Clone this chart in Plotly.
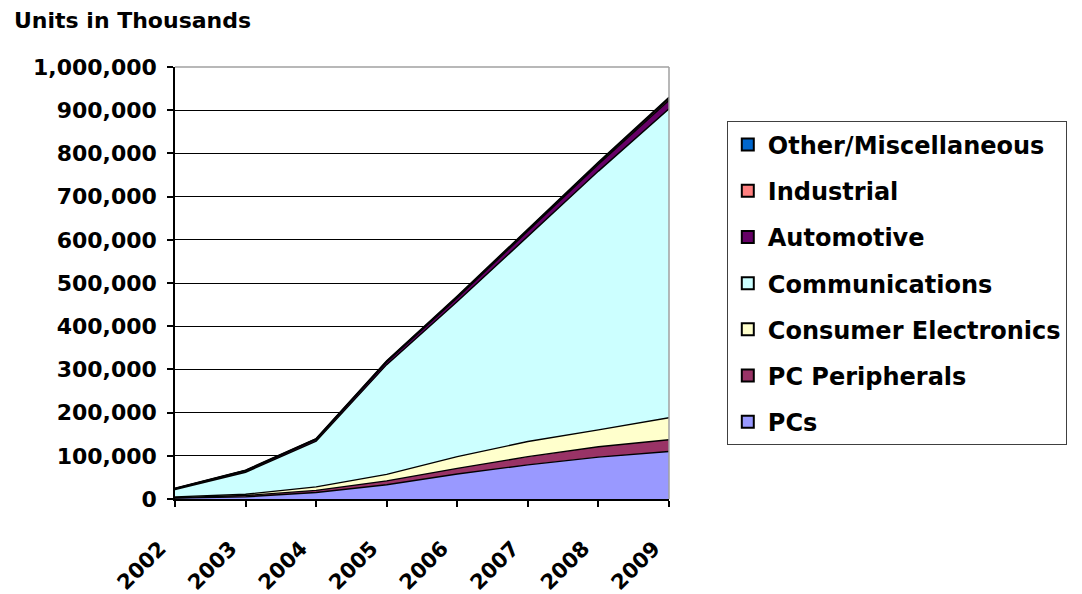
import plotly.graph_objects as go

# Annual unit shipments (thousands) by application segment
years = [2002, 2003, 2004, 2005, 2006, 2007, 2008, 2009]
pcs = [2000, 5000, 15000, 33000, 58000, 79000, 97000, 110000]
pc_peripherals = [1000, 3000, 5000, 9000, 13000, 19000, 24000, 27000]
consumer_electronics = [2000, 3000, 8000, 15000, 27000, 35000, 39000, 51000]
communications = [17000, 51000, 106000, 254000, 359000, 475000, 599000, 715000]
automotive = [2000, 3000, 4000, 6000, 9000, 12000, 16000, 20000]
industrial = [500, 1000, 1000, 2000, 2000, 3000, 3000, 4000]
other_misc = [500, 1000, 1000, 1000, 2000, 2000, 2000, 3000]

series_names = ["PCs", "PC Peripherals", "Consumer Electronics", "Communications",
                "Automotive", "Industrial", "Other/Miscellaneous"]
series_values = [pcs, pc_peripherals, consumer_electronics, communications,
                 automotive, industrial, other_misc]
series_colors = ["#9999FF", "#993366", "#FFFFCC", "#CCFFFF",
                 "#660066", "#FF8080", "#0066CC"]

y_ticks = list(range(0, 1000001, 100000))
y_tick_labels = [f"{v:,}" for v in y_ticks]

FONT = "DejaVu Sans"

fig = go.Figure()

# Stacked areas, bottom to top
for name, vals, col in zip(series_names, series_values, series_colors):
    fig.add_trace(go.Scatter(
        x=years, y=vals, name=name, stackgroup="one", mode="lines",
        fillcolor=col, line=dict(color="black", width=1.4),
        showlegend=False, hoverinfo="x+y+name",
    ))

# Legend entries with square swatches, top series listed first,
# each in its own group so the group gap spaces the rows
legend_items = list(zip(series_names, series_colors))[::-1]
for i, (name, col) in enumerate(legend_items):
    fig.add_trace(go.Scatter(
        x=[None], y=[None], name=name, mode="markers",
        marker=dict(symbol="square", size=13, color=col,
                    line=dict(color="black", width=1)),
        legendgroup=f"g{i}", showlegend=True,
    ))

fig.update_layout(
    width=1082, height=594,
    margin=dict(l=175, r=413, t=67, b=95),
    plot_bgcolor="white", paper_bgcolor="white",
    font=dict(family=FONT, size=22, color="black"),
    showlegend=True,
    legend=dict(
        x=1.117, xanchor="left", y=0.874, yanchor="top",
        traceorder="grouped", tracegroupgap=12,
        bordercolor="#404040", borderwidth=1, bgcolor="white",
        font=dict(family=FONT, size=24, color="black", weight="bold"),
        itemsizing="constant",
    ),
    xaxis=dict(
        range=[2002, 2009], tickmode="array", tickvals=years,
        ticktext=[str(y) for y in years], tickangle=-45,
        showgrid=False, zeroline=False, automargin=False,
        showline=True, linecolor="black", linewidth=1.5,
        ticks="outside", ticklen=6, tickcolor="black", tickwidth=1.5,
        ticklabelstandoff=21, ticklabelshift=-15,
        tickfont=dict(family=FONT, size=21, color="black", weight="bold"),
        fixedrange=True,
    ),
    yaxis=dict(
        range=[0, 1000000], tickmode="array", tickvals=y_ticks,
        ticktext=y_tick_labels,
        showgrid=True, gridcolor="black", gridwidth=1,
        zeroline=False, automargin=False,
        showline=True, linecolor="black", linewidth=1.5,
        ticks="outside", ticklen=6, tickcolor="black", tickwidth=1.5,
        ticklabelstandoff=6,
        tickfont=dict(family=FONT, size=22, color="black", weight="bold"),
        fixedrange=True,
    ),
    annotations=[dict(
        text="Units in Thousands", xref="paper", yref="paper",
        x=-0.33, y=1.108, xanchor="left", yanchor="middle", showarrow=False,
        font=dict(family=FONT, size=22, color="black", weight="bold"),
    )],
    shapes=[
        dict(type="line", xref="paper", yref="paper", x0=0, x1=1, y0=1, y1=1,
             line=dict(color="#A0A0A0", width=1.5), layer="above"),
        dict(type="line", xref="paper", yref="paper", x0=1, x1=1, y0=0, y1=1,
             line=dict(color="#A0A0A0", width=1.5), layer="above"),
    ],
)

fig.write_html("out.html")
